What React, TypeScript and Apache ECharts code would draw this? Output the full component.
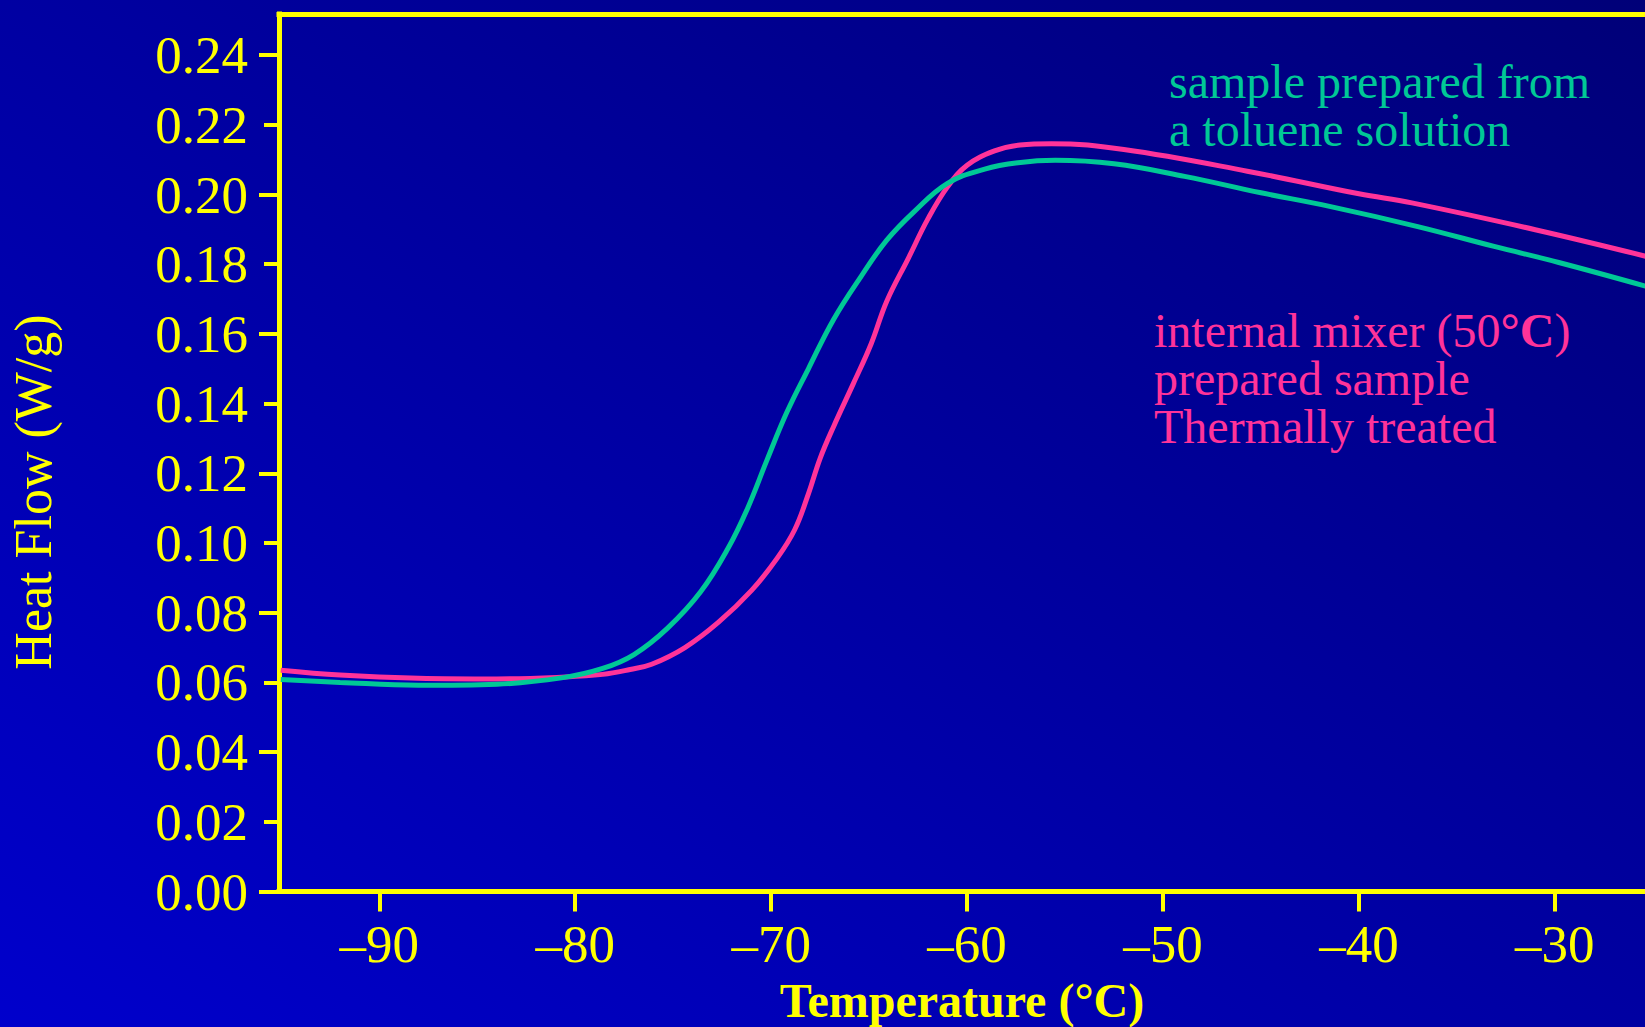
import React, { useEffect, useRef } from "react";
import * as echarts from "echarts";

// Temperature (°C) / Heat flow (W/g) readings
const tolueneT = [-95.03, -92, -88, -84, -80.7, -78.6, -77, -75.3, -73.6, -72.2, -71.2, -70.2, -69.2, -68.1, -66.8, -65.4, -64.1, -62.7, -61.0, -59.1, -57.4, -55.5, -52.5, -48.9, -45, -41.5, -37, -33.1, -29.8, -25.37];
const tolueneV = [0.0608, 0.06, 0.0592, 0.0595, 0.0613, 0.064, 0.068, 0.0755, 0.086, 0.0985, 0.11, 0.124, 0.1375, 0.15, 0.1643, 0.1766, 0.1869, 0.1951, 0.2032, 0.2073, 0.2091, 0.2098, 0.2088, 0.2052, 0.2005, 0.1966, 0.1908, 0.1851, 0.1805, 0.1737];

const mixerT = [-95.03, -92, -88, -84, -80.7, -78.6, -77.2, -76.1, -74.4, -72.7, -71.0, -69.7, -68.8, -68.1, -67.5, -66.8, -65.8, -64.9, -64.1, -63.0, -62.0, -61.0, -60.0, -58.6, -57.3, -55.7, -52.0, -45.7, -40.0, -37.3, -31.0, -25.37];
const mixerV = [0.0635, 0.0621, 0.0612, 0.061, 0.0615, 0.0623, 0.0637, 0.0652, 0.07, 0.0772, 0.0864, 0.0956, 0.1038, 0.1141, 0.1243, 0.1336, 0.1458, 0.1571, 0.1694, 0.1817, 0.193, 0.2022, 0.2084, 0.2125, 0.2142, 0.2146, 0.2129, 0.2067, 0.2002, 0.1976, 0.1899, 0.1823];

const xTicks = [-90, -80, -70, -60, -50, -40, -30];
const yTicks = [0, 0.02, 0.04, 0.06, 0.08, 0.1, 0.12, 0.14, 0.16, 0.18, 0.2, 0.22, 0.24];
const yMajorTicks = [0, 0.04, 0.08, 0.12, 0.16, 0.2, 0.24];

const tolueneLabel = ["sample prepared from", "a toluene solution"];
const mixerLabel = ["internal mixer (50{b|°C})", "prepared sample", "Thermally treated"];

const X_MIN = -95.12;
const X_MAX = -25.4;
const Y_MAX = 0.2518;

const YELLOW = "#ffff00";
const GREEN = "#00c896";
const PINK = "#ff3399";
const FONT = '"Liberation Serif", "Times New Roman", serif';

export default function App() {
  const ref = useRef<HTMLDivElement>(null);
  useEffect(() => {
    if (!ref.current) return;
    const chart = echarts.init(ref.current, undefined, { renderer: "svg" });
    const zip = (a: number[], b: number[]) => a.map((v, i) => [v, b[i]]);
    const texts: any[] = [
      {
        type: "text",
        x: 1169,
        y: 105,
        style: {
          text: tolueneLabel.join("\n"),
          fill: GREEN,
          font: `48px ${FONT}`,
          lineHeight: 48,
          textAlign: "left",
          textVerticalAlign: "middle",
        },
      },
      {
        type: "text",
        x: 1154,
        y: 378,
        style: {
          text: mixerLabel.join("\n"),
          fill: PINK,
          font: `48px ${FONT}`,
          lineHeight: 48,
          textAlign: "left",
          textVerticalAlign: "middle",
          rich: { b: { fontWeight: "bold", fontSize: 48, fontFamily: FONT, fill: PINK, lineHeight: 48 } },
        },
      },
      {
        type: "text",
        x: 33,
        y: 492,
        rotation: Math.PI / 2,
        style: { text: "Heat Flow (W/g)", fill: YELLOW, font: `52px ${FONT}`, textAlign: "center", textVerticalAlign: "middle" },
      },
      {
        type: "text",
        x: 962,
        y: 1000,
        style: { text: "Temperature (°C)", fill: YELLOW, font: `bold 48px ${FONT}`, textAlign: "center", textVerticalAlign: "middle" },
      },
    ];

    const frameLine = { show: true, onZero: false, lineStyle: { color: YELLOW, width: 5, cap: "square" } };

    chart.setOption({
      animation: false,
      grid: {
        show: false,
        left: 279,
        top: 14,
        right: 0,
        bottom: 135.5,
        containLabel: false,
      },
      xAxis: [
        {
          type: "value",
          position: "bottom",
          min: X_MIN,
          max: X_MAX,
          axisLine: frameLine,
          splitLine: { show: false },
          axisTick: { show: true, customValues: xTicks, length: 20, lineStyle: { color: YELLOW, width: 4 } },
          axisLabel: {
            customValues: xTicks,
            formatter: (v: number) => (v < 0 ? "\u2013" + Math.abs(v) : String(v)),
            color: YELLOW,
            fontFamily: FONT,
            fontSize: 53,
            margin: 26,
          },
        },
        {
          type: "value",
          position: "top",
          min: X_MIN,
          max: X_MAX,
          axisLine: frameLine,
          splitLine: { show: false },
          axisTick: { show: false },
          axisLabel: { show: false },
        },
      ],
      yAxis: [
        {
          type: "value",
          min: 0,
          max: Y_MAX,
          axisLine: frameLine,
          splitLine: { show: false },
          axisTick: { show: true, customValues: yTicks, length: 15, lineStyle: { color: YELLOW, width: 4 } },
          axisLabel: {
            customValues: yTicks,
            formatter: (v: number) => v.toFixed(2),
            color: YELLOW,
            fontFamily: FONT,
            fontSize: 53,
            margin: 31,
          },
        },
        {
          type: "value",
          min: 0,
          max: Y_MAX,
          position: "left",
          offset: 0,
          axisLine: { show: false },
          splitLine: { show: false },
          axisLabel: { show: false },
          axisTick: { show: true, customValues: yMajorTicks, length: 20, lineStyle: { color: YELLOW, width: 4 } },
        },
      ],
      graphic: texts,
      series: [
        {
          name: "internal mixer",
          type: "line",
          data: zip(mixerT, mixerV),
          smooth: 0.4,
          showSymbol: false,
          lineStyle: { color: PINK, width: 5 },
          z: 3,
        },
        {
          name: "toluene solution",
          type: "line",
          data: zip(tolueneT, tolueneV),
          smooth: 0.4,
          showSymbol: false,
          lineStyle: { color: GREEN, width: 5 },
          z: 4,
        },
      ],
    });
    return () => chart.dispose();
  }, []);
  return (
    <div
      ref={ref}
      style={{
        position: "fixed",
        left: 0,
        top: 0,
        width: 1645,
        height: 1027,
        background: "linear-gradient(to top right, #0000cc, #000078)",
      }}
    />
  );
}
